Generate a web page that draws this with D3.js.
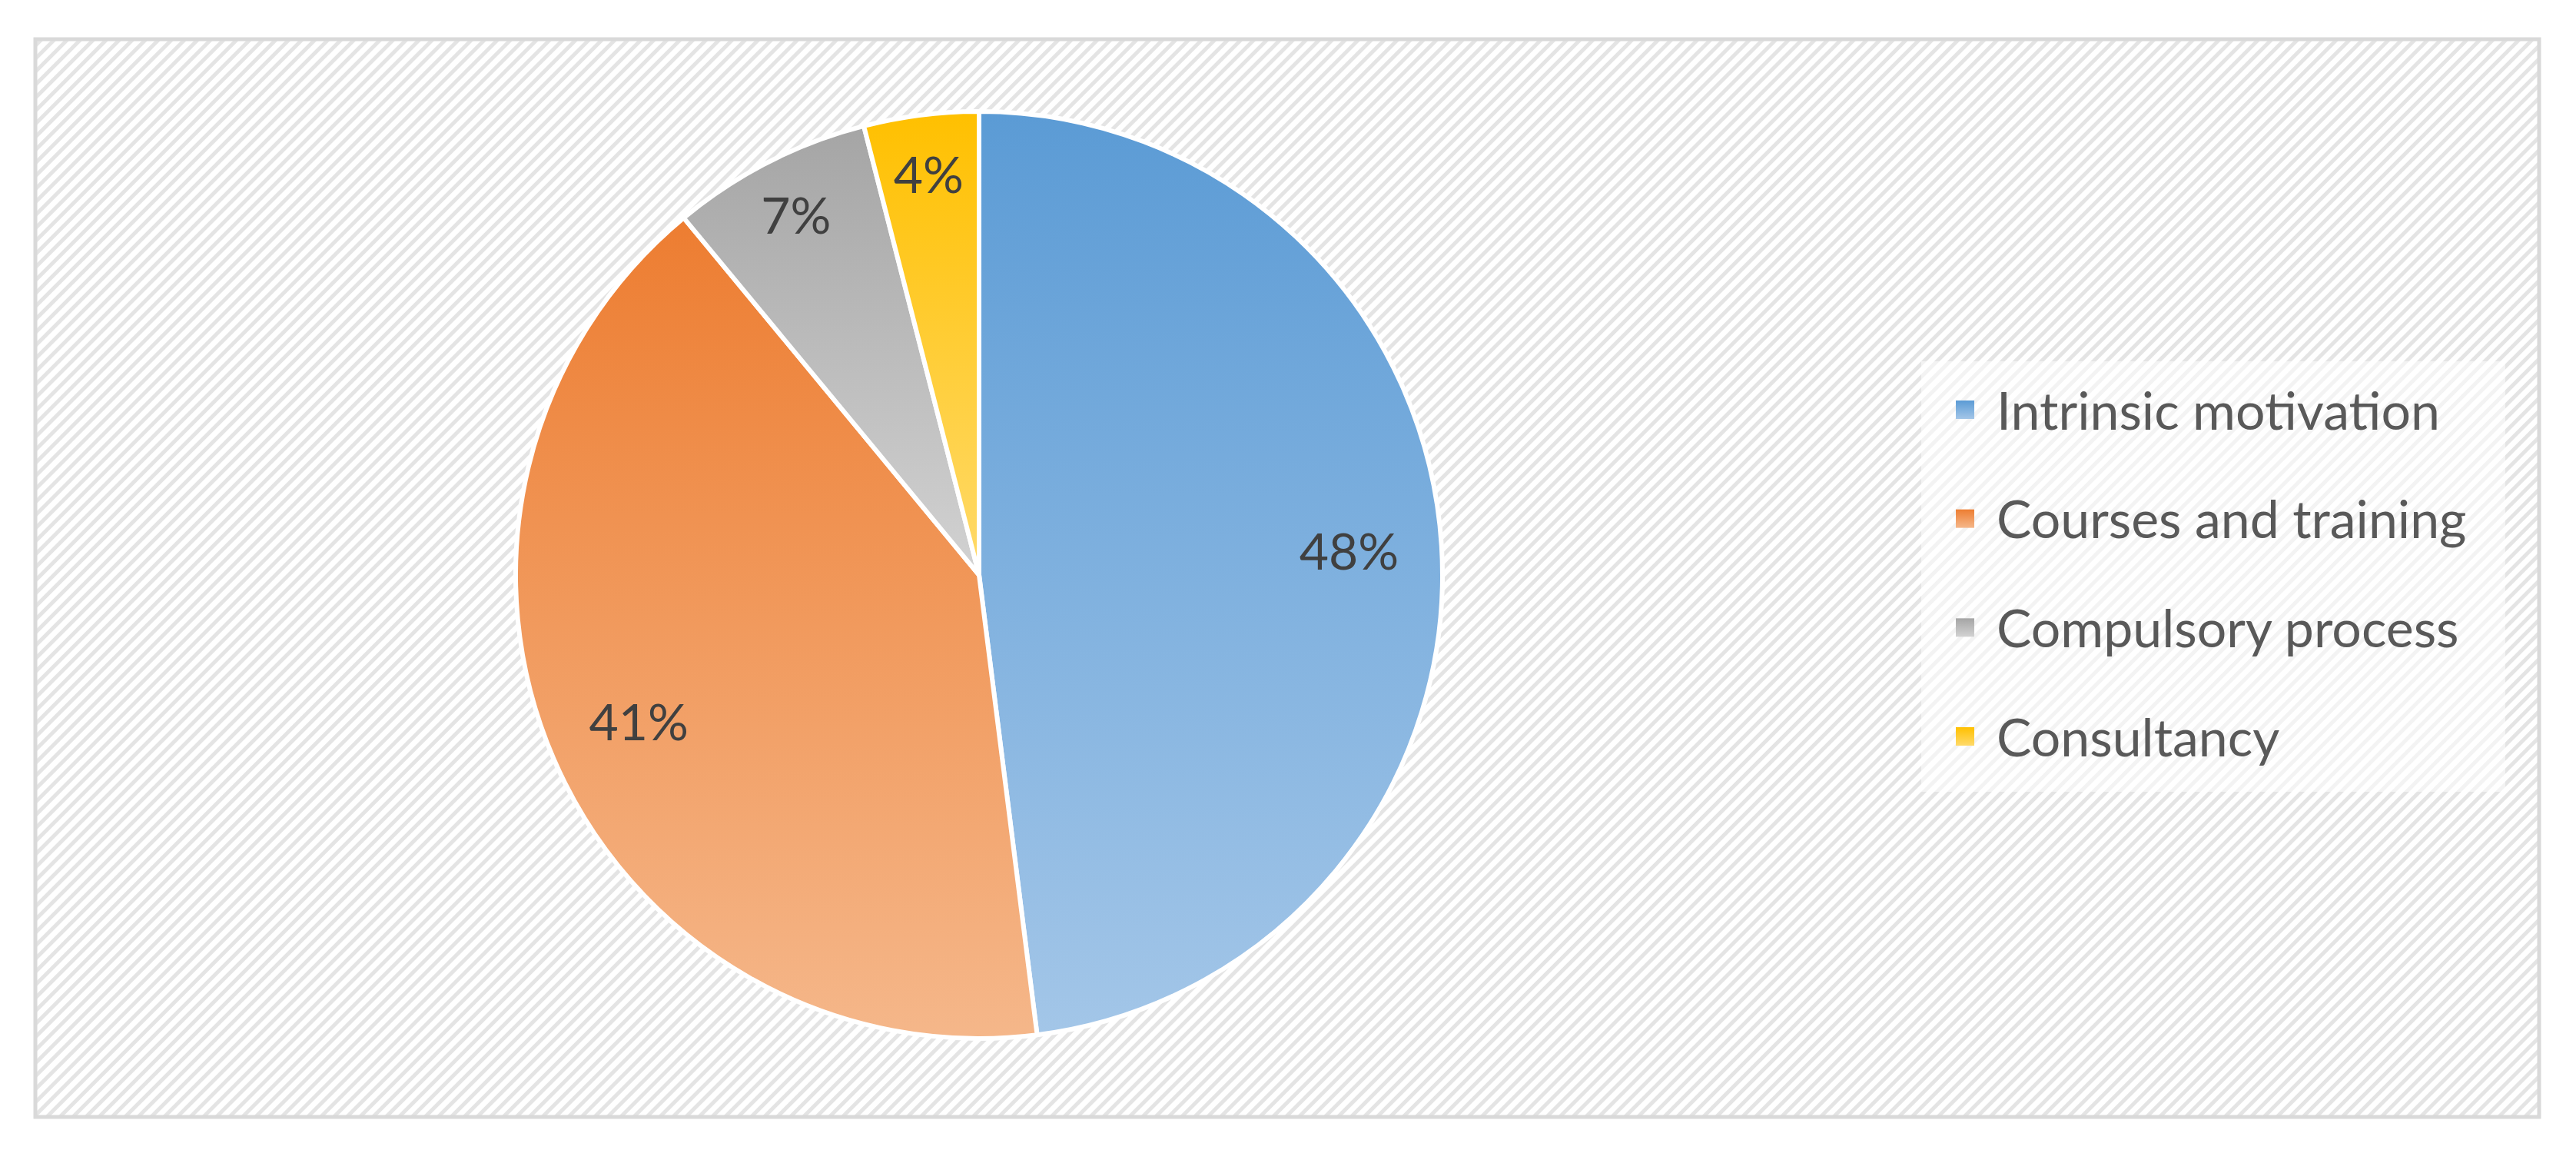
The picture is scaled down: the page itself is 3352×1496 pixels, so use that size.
<!DOCTYPE html>
<html><head><meta charset="utf-8">
<script src="https://cdn.jsdelivr.net/npm/d3@7"></script>
<style>body{margin:0;background:#fff}</style></head>
<body><svg id="c" width="3352" height="1496"></svg>
<script>
const categories=["Intrinsic motivation","Courses and training","Compulsory process","Consultancy"];
const values=[48,41,7,4];
const labels=["48%","41%","7%","4%"];
const colTop=["#5B9BD5","#ED7D31","#A5A5A5","#FFC000"];
const colBot=["#A3C6E8","#F5B78A","#D2D2D2","#FFDA6A"];

const svg=d3.select("#c");
const defs=svg.append("defs");
const pat=defs.append("pattern").attr("id","hatch").attr("width",12).attr("height",12)
 .attr("patternUnits","userSpaceOnUse").attr("patternTransform","rotate(45)");
pat.append("rect").attr("width",12).attr("height",12).attr("fill","#fff");
pat.append("rect").attr("width",5).attr("height",12).attr("fill","#e4e4e4");
categories.forEach((c,i)=>{
  const g=defs.append("linearGradient").attr("id","g"+i).attr("x1",0).attr("y1",0).attr("x2",0).attr("y2",1);
  g.append("stop").attr("offset","0%").attr("stop-color",colTop[i]);
  g.append("stop").attr("offset","100%").attr("stop-color",colBot[i]);
});
svg.append("rect").attr("x",46).attr("y",51).attr("width",3258).attr("height",1402)
 .attr("fill","url(#hatch)").attr("stroke","#d9d9d9").attr("stroke-width",5);

const cx=1274,cy=748,R=603;
const pie=d3.pie().sort(null).value(d=>d)(values);
const arc=d3.arc().innerRadius(0).outerRadius(R);
const g=svg.append("g").attr("transform",`translate(${cx},${cy})`);
g.selectAll("path").data(pie).join("path").attr("d",arc)
 .attr("fill",(d,i)=>`url(#g${i})`).attr("stroke","#fff").attr("stroke-width",6).attr("stroke-linejoin","round");
const lab=d3.arc().innerRadius(R*0.82).outerRadius(R*0.82);
const lab2=d3.arc().innerRadius(R*0.8).outerRadius(R*0.8);
g.selectAll("text").data(pie).join("text")
 .attr("transform",(d,i)=>`translate(${(i<2?d3.arc().innerRadius(R*0.8).outerRadius(R*0.8):d3.arc().innerRadius(R*0.87).outerRadius(R*0.87)).centroid(d)})`)
 .attr("text-anchor","middle").attr("dy","0.35em")
 .attr("font-family","Lato, 'Open Sans', sans-serif").attr("font-size",66).attr("fill","#404040")
 .text((d,i)=>labels[i]);

const lg=svg.append("g");
lg.append("rect").attr("x",2500).attr("y",470).attr("width",760).attr("height",560).attr("fill","#fff").attr("opacity",0.55);
const y=d3.scalePoint().domain(categories).range([535,960]);
categories.forEach((c,i)=>{
  lg.append("rect").attr("x",2545).attr("y",y(c)-14).attr("width",24).attr("height",24).attr("fill",`url(#g${i})`);
  lg.append("text").attr("x",2598).attr("y",y(c)).attr("dy","0.35em")
   .attr("font-family","Lato, 'Open Sans', sans-serif").attr("font-size",68).attr("fill","#595959").text(c);
});
</script></body></html>
